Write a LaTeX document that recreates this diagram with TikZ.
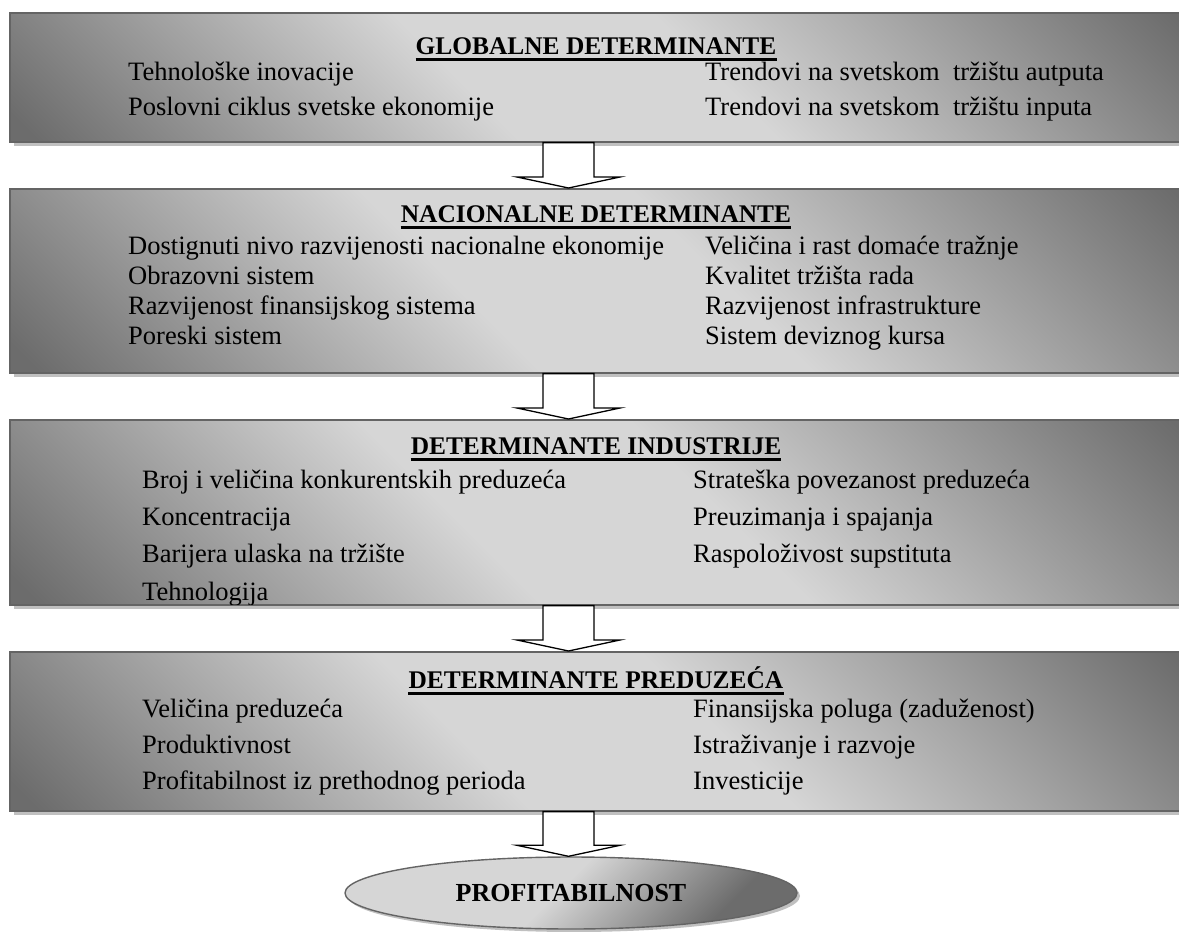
\documentclass[tikz,border=0pt]{standalone}
\usepackage{fontspec}
\setmainfont{Liberation Serif}
\usetikzlibrary{shadows,calc,shapes.geometric}
\definecolor{gD}{RGB}{108,108,108}
\definecolor{gL}{RGB}{214,214,214}
\definecolor{bordergray}{RGB}{100,100,100}
\definecolor{shadowgray}{RGB}{192,192,192}
\pgfdeclareverticalshading{boxshade}{100bp}{color(0bp)=(gD); color(16bp)=(gD); color(42bp)=(gL); color(56bp)=(gL); color(84bp)=(gD); color(100bp)=(gD)}
\pgfdeclareverticalshading{ellshade}{100bp}{color(0bp)=(gD); color(27bp)=(gD); color(52bp)=(gL); color(70bp)=(gL); color(100bp)=(gL)}
\tikzset{
  detbox/.style={rectangle, draw=bordergray, line width=1.6pt, shade, shading=boxshade, shading angle=-45,
    minimum width=1191pt, inner sep=0pt, anchor=north west,
    drop shadow={shadow xshift=4pt, shadow yshift=-4pt, fill=shadowgray, opacity=1}},
  ellnode/.style={ellipse, draw=bordergray, line width=1.4pt, shade, shading=ellshade, shading angle=45,
    minimum width=452pt, minimum height=72pt, inner sep=0pt,
    font=\fontsize{26}{30}\selectfont\bfseries,
    drop shadow={shadow xshift=3pt, shadow yshift=-3pt, fill=shadowgray, opacity=1}},
  ttl/.style={anchor=base, inner sep=0pt, font=\fontsize{25.4}{30}\selectfont\bfseries},
  item/.style={anchor=base west, inner sep=0pt, font=\fontsize{26.5}{31}\selectfont},
  uline/.style={line width=2.4pt},
  barrow/.style={draw=black, fill=white, line width=1.3pt, line join=miter},
}
\newcommand\blockarr[2]{%
  \draw[barrow] ($(#1)+(-25.5,0)$) -- ($(#2)+(-25.5,-11)$) -- ($(#2)+(-51.5,-11)$) -- (#2)
    -- ($(#2)+(51.5,-11)$) -- ($(#2)+(25.5,-11)$) -- ($(#1)+(25.5,0)$) -- cycle;}
\newcommand\tline[1]{\draw[uline] ([yshift=-5.5pt]#1.base west) -- ([yshift=-5.5pt]#1.base east);}
\begin{document}
\begin{tikzpicture}[x=1pt,y=-1pt]
\useasboundingbox (0,0) rectangle (1179,932);
\clip (0,0) rectangle (1179,932);
% boxes
\node[detbox, minimum height=129pt] (b1) at (9,12) {};
\node[detbox, minimum height=184pt] (b2) at (9,188) {};
\node[detbox, minimum height=185pt] (b3) at (9,419) {};
\node[detbox, minimum height=159pt] (b4) at (9,651) {};
% box 1
\node[ttl] (t1) at (596,54) {GLOBALNE DETERMINANTE};
\tline{t1}
\node[item] (g1) at (128,80) {Tehnološke inovacije};
\node[item] (g2) at (128,115) {Poslovni ciklus svetske ekonomije};
\node[item] (g3) at (705,80) {Trendovi na svetskom~~tržištu autputa};
\node[item] (g4) at (705,115) {Trendovi na svetskom~~tržištu inputa};
% box 2
\node[ttl] (t2) at (596,222) {NACIONALNE DETERMINANTE};
\tline{t2}
\node[item] (n1) at (128,254) {Dostignuti nivo razvijenosti nacionalne ekonomije};
\node[item] (n2) at (128,284) {Obrazovni sistem};
\node[item] (n3) at (128,314) {Razvijenost finansijskog sistema};
\node[item] (n4) at (128,344) {Poreski sistem};
\node[item] (n5) at (705,254) {Veličina i rast domaće tražnje};
\node[item] (n6) at (705,284) {Kvalitet tržišta rada};
\node[item] (n7) at (705,314) {Razvijenost infrastrukture};
\node[item] (n8) at (705,344) {Sistem deviznog kursa};
% box 3
\node[ttl] (t3) at (596,454) {DETERMINANTE INDUSTRIJE};
\tline{t3}
\node[item] (i1) at (142,488) {Broj i veličina konkurentskih preduzeća};
\node[item] (i2) at (142,525) {Koncentracija};
\node[item] (i3) at (142,562) {Barijera ulaska na tržište};
\begin{scope}
\clip (b3.north west) rectangle (b3.south east);
\node[item] (i4) at (142,600) {Tehnologija};
\end{scope}
\draw[draw=bordergray, line width=1.6pt] (b3.south west) -- (b3.south east);
\node[item] (i5) at (693,488) {Strateška povezanost preduzeća};
\node[item] (i6) at (693,525) {Preuzimanja i spajanja};
\node[item] (i7) at (693,562) {Raspoloživost supstituta};
% box 4
\node[ttl] (t4) at (596,688) {DETERMINANTE PREDUZEĆA};
\tline{t4}
\node[item] (p1) at (142,717) {Veličina preduzeća};
\node[item] (p2) at (142,753) {Produktivnost};
\node[item] (p3) at (142,789) {Profitabilnost iz prethodnog perioda};
\node[item] (p4) at (693,717) {Finansijska poluga (zaduženost)};
\node[item] (p5) at (693,753) {Istraživanje i razvoje};
\node[item] (p6) at (693,789) {Investicije};
% result
\node[ellnode] (pr) at (571,893) {PROFITABILNOST};
% arrows
\coordinate (ax) at (568.5,0);
\coordinate (a1s) at (b1.south -| ax); \coordinate (a1e) at (b2.north -| ax);
\coordinate (a2s) at (b2.south -| ax); \coordinate (a2e) at (b3.north -| ax);
\coordinate (a3s) at (b3.south -| ax); \coordinate (a3e) at (b4.north -| ax);
\coordinate (a4s) at (b4.south -| ax); \coordinate (a4e) at (pr.north -| ax);
\blockarr{a1s}{a1e}
\blockarr{a2s}{a2e}
\blockarr{a3s}{a3e}
\blockarr{a4s}{a4e}
\end{tikzpicture}
\end{document}
